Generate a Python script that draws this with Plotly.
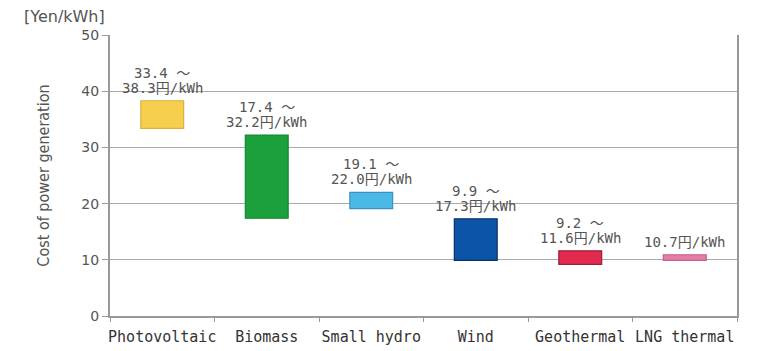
import plotly.graph_objects as go

categories = ["Photovoltaic", "Biomass", "Small hydro", "Wind", "Geothermal", "LNG thermal"]
low_values = [33.4, 17.4, 19.1, 9.9, 9.2, 9.9]
high_values = [38.3, 32.2, 22.0, 17.3, 11.6, 10.9]
range_labels = ["33.4 ～<br>38.3円/kWh", "17.4 ～<br>32.2円/kWh", "19.1 ～<br>22.0円/kWh",
                "9.9 ～<br>17.3円/kWh", "9.2 ～<br>11.6円/kWh", "10.7円/kWh"]
bar_colors = ["#F6D04C", "#1CA03C", "#4CB8E8", "#0B54A6", "#E22A4E", "#E57DA8"]
edge_colors = ["#D8B040", "#168A32", "#3C90C4", "#0A2F66", "#9A1E38", "#C0608A"]
y_ticks = [0, 10, 20, 30, 40, 50]

fig = go.Figure()
fig.add_trace(go.Bar(
    x=categories,
    y=[h - l for h, l in zip(high_values, low_values)],
    base=low_values,
    marker=dict(color=bar_colors, line=dict(color=edge_colors, width=1.2)),
    width=0.41,
    hoverinfo="skip",
))

label_font = dict(family="DejaVu Sans Mono, Noto Sans CJK JP", size=14, color="#555555")
for cat, hv, txt in zip(categories, high_values, range_labels):
    lines = txt.split("<br>")
    for i, line in enumerate(reversed(lines)):
        fig.add_annotation(x=cat, y=hv, text=line, showarrow=False, yanchor="bottom",
                           yshift=3 + 15 * i, font=label_font, align="center")

fig.add_annotation(xref="paper", yref="paper", x=-0.14, y=1.025, xanchor="left",
                   yanchor="bottom", text="[Yen/kWh]", showarrow=False,
                   font=dict(family="DejaVu Sans", size=16, color="#555555"))

fig.update_layout(
    width=761, height=351,
    margin=dict(l=110, r=24, t=35, b=35, autoexpand=False),
    paper_bgcolor="white", plot_bgcolor="white",
    showlegend=False,
    bargap=0.59,
)
fig.update_xaxes(
    type="category",
    tickson="boundaries",
    tickangle=0, automargin=False,
    ticks="outside", ticklen=4, tickcolor="#999999",
    ticklabelstandoff=6,
    showline=True, linecolor="#999999", linewidth=2,
    showgrid=False,
    tickfont=dict(family="DejaVu Sans Mono", size=15, color="#333333"),
)
fig.update_yaxes(
    range=[0, 50], tickvals=y_ticks,
    automargin=False,
    ticks="outside", ticklen=6, tickcolor="#999999",
    showline=True, linecolor="#999999", linewidth=2, mirror=True,
    showgrid=True, gridcolor="#AAAAAA", gridwidth=1,
    zeroline=False,
    tickfont=dict(family="DejaVu Sans", size=14, color="#555555"),
    title=dict(text="Cost of power generation", standoff=28,
               font=dict(family="DejaVu Sans Condensed, Liberation Sans Narrow, DejaVu Sans Mono", size=16, color="#555555")),
)

fig.write_html("out.html")
